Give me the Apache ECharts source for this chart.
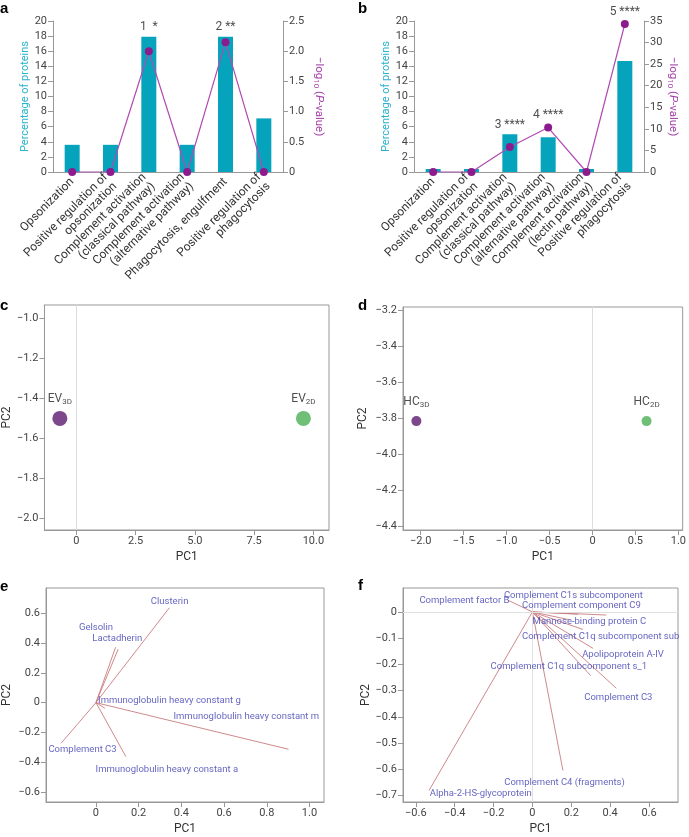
<!DOCTYPE html>
<html><head><meta charset="utf-8">
<script src="https://cdn.jsdelivr.net/npm/echarts@6/dist/echarts.min.js"></script>
<style>html,body{margin:0;padding:0;background:#fff}#c{width:689px;height:837px}</style>
</head><body><div id="c"></div>
<script>
// ---- Panel a ----
const catA = ['Opsonization','Positive regulation of\nopsonization','Complement activation\n(classical pathway)','Complement activation\n(alternative pathway)','Phagocytosis, engulfment','Positive regulation of\nphagocytosis'];
const pctA = [3.6, 3.6, 17.9, 3.6, 17.9, 7.1];
const logpA = [0, 0, 2.0, 0, 2.15, 0];
const noteA = ['', '', '1  *', '', '2 **', ''];
// ---- Panel b ----
const catB = ['Opsonization','Positive regulation of\nopsonization','Complement activation\n(classical pathway)','Complement activation\n(alternative pathway)','Complement activation\n(lectin pathway)','Positive regulation of\nphagocytosis'];
const pctB = [0.4, 0.4, 5.0, 4.6, 0.4, 14.7];
const logpB = [0, 0, 5.8, 10.3, 0, 34.3];
const noteB = ['', '', '3 ****', '4 ****', '', '5 ****'];
// ---- Panel c ----
const cNames = ['EV', 'EV'];
const cSubs = ['3D', '2D'];
const cX = [-0.70, 9.58];
const cY = [-1.50, -1.50];
const cXTicks = [0, 2.5, 5, 7.5, 10];
const cYTicks = [-1.0, -1.2, -1.4, -1.6, -1.8, -2.0];
// ---- Panel d ----
const dNames = ['HC', 'HC'];
const dSubs = ['3D', '2D'];
const dX = [-2.05, 0.63];
const dY = [-3.815, -3.815];
const dXTicks = [-2.0, -1.5, -1.0, -0.5, 0, 0.5, 1.0];
const dYTicks = [-3.2, -3.4, -3.6, -3.8, -4.0, -4.2, -4.4];
// ---- Panel e (loadings) ----
const eNames = ['Clusterin','Gelsolin','Lactadherin','Immunoglobulin heavy constant g','Immunoglobulin heavy constant m','Complement C3','Immunoglobulin heavy constant a'];
const eX = [0.344, 0.092, 0.104, 0.042, 0.902, -0.163, 0.140];
const eY = [0.639, 0.373, 0.360, -0.038, -0.314, -0.273, -0.363];
const eLX = [0.345, 0.0, 0.10, 0.344, 0.704, -0.063, 0.332];
const eLY = [0.68, 0.507, 0.43, 0.016, -0.094, -0.316, -0.448];
const eXTicks = [0, 0.2, 0.4, 0.6, 0.8, 1.0];
const eYTicks = [-0.6, -0.4, -0.2, 0, 0.2, 0.4, 0.6];
// ---- Panel f (loadings) ----
const fNames = ['Complement factor B','Complement C1s subcomponent','Complement component C9','Mannose-binding protein C','Complement C1q subcomponent sub','Apolipoprotein A-IV','Complement C1q subcomponent s_1','Complement C3','Complement C4 (fragments)','Alpha-2-HS-glycoprotein'];
const fX = [-0.125, 0.235, 0.380, 0.190, 0.260, 0.312, 0.300, 0.432, 0.157, -0.532];
const fY = [0.044, -0.009, -0.012, -0.030, -0.067, -0.139, -0.243, -0.291, -0.604, -0.680];
const fLX = [-0.35, 0.211, 0.252, 0.293, 0.351, 0.466, 0.187, 0.442, 0.165, -0.266];
const fLY = [0.042, 0.062, 0.022, -0.038, -0.094, -0.161, -0.21, -0.327, -0.652, -0.693];
const fXTicks = [-0.6, -0.4, -0.2, 0, 0.2, 0.4, 0.6];
const fYTicks = [0, -0.1, -0.2, -0.3, -0.4, -0.5, -0.6, -0.7];

const FONT = 'Roboto';
const AX = '#999';
const TXT = '#444';
const BAR = '#05a4bc';
const LINEC = '#b04bb2';
const DOT = '#8c1c8e';
const CYAN = '#2ab3cc';
const PURP = '#a43ea9';
const VEC = '#c97c7f';
const LAB = '#3d3db2';

function fmt(v){ if (Math.abs(v) < 1e-9) return '0'; return v.toFixed(1).replace('-', '\u2212'); }
function fmtInt(v){ return String(Math.round(v)); }

const chart = echarts.init(document.getElementById('c'), null, {renderer:'canvas'});

function catX(grid, cats){
  return {type:'category', gridIndex:grid, data:cats,
    axisLine:{lineStyle:{color:AX}}, axisTick:{alignWithLabel:true, lineStyle:{color:AX}},
    axisLabel:{rotate:45, interval:0, color:'#333', fontSize:12, fontFamily:FONT, lineHeight:13, margin:8}};
}
function leftY(grid){
  return {type:'value', gridIndex:grid, position:'left', min:0, max:20, interval:2,
    name:'Percentage of proteins', nameLocation:'middle', nameGap:22,
    nameTextStyle:{color:CYAN, fontSize:11, fontFamily:FONT},
    axisLine:{show:true, lineStyle:{color:AX}}, axisTick:{show:true, lineStyle:{color:AX}},
    splitLine:{show:false}, axisLabel:{color:TXT, fontSize:11, fontFamily:FONT, margin:6}};
}
function rightY(grid, max, interval, gap, f){
  return {type:'value', gridIndex:grid, position:'right', min:0, max:max, interval:interval,
    name:'\u2212log{s|10} ({i|P}-value)', nameLocation:'middle', nameGap:gap, nameRotate:-90,
    nameTextStyle:{color:PURP, fontSize:11.5, fontFamily:FONT,
      rich:{s:{fontSize:8, color:PURP, fontFamily:FONT, padding:[5,0,0,0]}, i:{fontSize:11.5, fontStyle:'italic', color:PURP, fontFamily:FONT}}},
    axisLine:{show:true, lineStyle:{color:AX}}, axisTick:{show:true, lineStyle:{color:AX}},
    splitLine:{show:false}, axisLabel:{color:TXT, fontSize:11, fontFamily:FONT, margin:6, formatter:f}};
}
function valX(grid, min, max, ticks, gap){
  return {type:'value', gridIndex:grid, min:min, max:max, name:'PC1', nameLocation:'middle', nameGap:gap,
    nameTextStyle:{color:'#333', fontSize:12, fontFamily:FONT},
    axisLine:{show:true, onZero:false, lineStyle:{color:AX}},
    axisTick:{show:true, customValues:ticks, lineStyle:{color:AX}},
    axisLabel:{customValues:ticks, formatter:fmt, color:TXT, fontSize:11, fontFamily:FONT, margin:6},
    splitLine:{show:false}};
}
function valY(grid, min, max, ticks, gap){
  return {type:'value', gridIndex:grid, min:min, max:max, name:'PC2', nameLocation:'middle', nameGap:gap,
    nameTextStyle:{color:'#333', fontSize:12, fontFamily:FONT},
    axisLine:{show:true, onZero:false, lineStyle:{color:AX}},
    axisTick:{show:true, customValues:ticks, lineStyle:{color:AX}},
    axisLabel:{customValues:ticks, formatter:fmt, color:TXT, fontSize:11, fontFamily:FONT, margin:6},
    splitLine:{show:false}};
}

function noteSeries(xi, yi, pct, logp, rmax, notes){
  const data = pct.map((p,i)=> {
    const lp = logp[i]*20/rmax;
    return {value:[i, Math.max(p, lp)], label:{distance: lp > p ? 6 : 3}};
  });
  return {type:'scatter', xAxisIndex:xi, yAxisIndex:yi, data:data, symbolSize:1, silent:true,
    itemStyle:{color:'transparent'}, z:5,
    label:{show:true, position:'top', color:'#222', fontSize:12, fontFamily:FONT,
      formatter:p=>notes[p.dataIndex]}};
}

function pcaSeries(xi, yi, xs, ys, names, subs, size, dist){
  const cols = ['#5b1a6e', '#4caf55'];
  return {type:'scatter', xAxisIndex:xi, yAxisIndex:yi, symbolSize:size,
    data: xs.map((x,i)=>({value:[x, ys[i]], itemStyle:{color:cols[i]}, name:names[i]})),
    label:{show:true, position:'top', distance:dist, color:'#222', fontSize:12, fontFamily:FONT,
      formatter:p=>'{a|'+names[p.dataIndex]+'}{s|'+subs[p.dataIndex]+'}',
      rich:{a:{fontSize:12, color:'#222', fontFamily:FONT}, s:{fontSize:8, color:'#222', fontFamily:FONT, padding:[6,0,0,0]}}},
    markLine:{silent:true, symbol:'none', label:{show:false}, lineStyle:{color:'#dcdcdc', type:'solid', width:1}, data:[{xAxis:0}]}};
}

function vecSeries(xi, yi, xs, ys){
  return {type:'custom', xAxisIndex:xi, yAxisIndex:yi, silent:true,
    data: xs.map((x,i)=>[x, ys[i]]), encode:{x:0, y:1},
    renderItem:(params, api)=>{
      const o = api.coord([0,0]); const p = api.coord([api.value(0), api.value(1)]);
      return {type:'line', shape:{x1:o[0], y1:o[1], x2:p[0], y2:p[1]}, style:{stroke:VEC, lineWidth:0.9}};
    }};
}
function vecLabels(xi, yi, xs, ys, names, zeroH){
  const s = {type:'scatter', xAxisIndex:xi, yAxisIndex:yi, symbolSize:1, silent:true, z:6,
    itemStyle:{color:'transparent'},
    data: xs.map((x,i)=>({value:[x, ys[i]], name:names[i]})),
    label:{show:true, position:'inside', color:LAB, fontSize:9.5, fontFamily:FONT, formatter:'{b}'}};
  if (zeroH) s.markLine = {silent:true, symbol:'none', label:{show:false}, lineStyle:{color:'#e0e0e0', type:'solid', width:1}, data:[{xAxis:0},{yAxis:0}]};
  return s;
}

const boxed = {show:true, borderColor:AX, borderWidth:1, backgroundColor:'transparent'};

const option = {
  animation:false,
  textStyle:{fontFamily:FONT},
  grid:[
    {left:53, top:21, width:230, height:151},
    {left:414, top:21, width:230, height:151},
    Object.assign({left:44, top:305, width:285, height:225}, boxed),
    Object.assign({left:403, top:307, width:284, height:223}, boxed),
    Object.assign({left:44, top:588, width:280, height:214}, boxed),
    Object.assign({left:403, top:588, width:275, height:214}, boxed)
  ],
  xAxis:[
    catX(0, catA), catX(1, catB),
    valX(2, -1.35, 10.66, cXTicks, 21),
    valX(3, -2.206, 1.05, dXTicks, 21),
    valX(4, -0.234, 1.068, eXTicks, 21),
    valX(5, -0.666, 0.749, fXTicks, 21)
  ],
  yAxis:[
    leftY(0), rightY(0, 2.5, 0.5, 29, fmt),
    leftY(1), rightY(1, 35, 5, 22, fmtInt),
    valY(2, -2.058, -0.933, cYTicks, 30),
    valY(3, -4.418, -3.183, dYTicks, 34),
    valY(4, -0.669, 0.772, eYTicks, 33),
    valY(5, -0.724, 0.091, fYTicks, 29)
  ],
  series:[
    {type:'bar', xAxisIndex:0, yAxisIndex:0, data:pctA, barWidth:15, itemStyle:{color:BAR}},
    {type:'line', xAxisIndex:0, yAxisIndex:1, data:logpA, symbol:'circle', symbolSize:8, lineStyle:{color:LINEC, width:1.2}, itemStyle:{color:DOT}, z:4},
    noteSeries(0, 0, pctA, logpA, 2.5, noteA),
    {type:'bar', xAxisIndex:1, yAxisIndex:2, data:pctB, barWidth:15, itemStyle:{color:BAR}},
    {type:'line', xAxisIndex:1, yAxisIndex:3, data:logpB, symbol:'circle', symbolSize:8, lineStyle:{color:LINEC, width:1.2}, itemStyle:{color:DOT}, z:4},
    noteSeries(1, 2, pctB, logpB, 35, noteB),
    pcaSeries(2, 4, cX, cY, cNames, cSubs, 15, 5),
    pcaSeries(3, 5, dX, dY, dNames, dSubs, 10, 7),
    vecSeries(4, 6, eX, eY),
    vecLabels(4, 6, eLX, eLY, eNames, false),
    vecSeries(5, 7, fX, fY),
    vecLabels(5, 7, fLX, fLY, fNames, true)
  ],
  graphic:[
    {type:'text', x:0, y:9, style:{text:'a', font:'bold 15px "Liberation Sans"', fill:'#000', verticalAlign:'middle'}},
    {type:'text', x:358, y:8.5, style:{text:'b', font:'bold 15px "Liberation Sans"', fill:'#000', verticalAlign:'middle'}},
    {type:'text', x:0, y:305.5, style:{text:'c', font:'bold 15px "Liberation Sans"', fill:'#000', verticalAlign:'middle'}},
    {type:'text', x:358, y:305.5, style:{text:'d', font:'bold 15px "Liberation Sans"', fill:'#000', verticalAlign:'middle'}},
    {type:'text', x:0, y:587, style:{text:'e', font:'bold 15px "Liberation Sans"', fill:'#000', verticalAlign:'middle'}},
    {type:'text', x:358, y:586, style:{text:'f', font:'bold 15px "Liberation Sans"', fill:'#000', verticalAlign:'middle'}}
  ]
};
chart.setOption(option);
</script>
</body></html>
